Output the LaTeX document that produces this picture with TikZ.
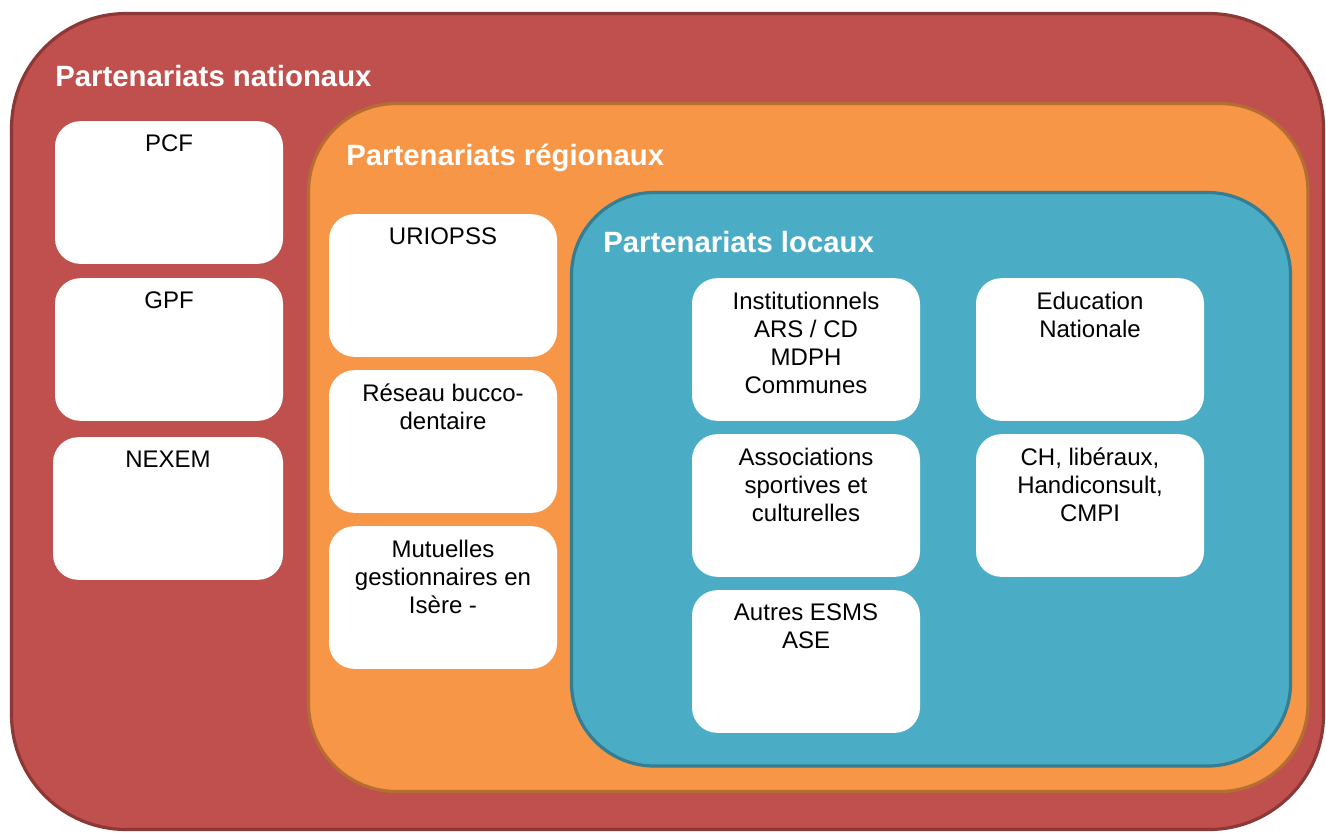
\documentclass[tikz,border=0pt]{standalone}
\usepackage{fontspec}
\setmainfont{Liberation Sans}
\definecolor{redfill}{HTML}{C0504D}
\definecolor{redline}{HTML}{8C3836}
\definecolor{orfill}{HTML}{F79646}
\definecolor{orline}{HTML}{B66D31}
\definecolor{blfill}{HTML}{4BACC6}
\definecolor{blline}{HTML}{357D91}
\tikzset{
  zone/.style={line width=2.4pt},
  title/.style={anchor=west, text=white, font=\fontsize{22}{26}\selectfont\bfseries, inner sep=0pt},
  whitebox/.style={fill=white, rounded corners=19pt, minimum width=171pt, minimum height=107pt, inner sep=0pt},
  boxtext/.style={anchor=north, inner sep=0pt, yshift=-10.3pt, align=center, font=\fontsize{18}{21}\selectfont}
}
\begin{document}
\begin{tikzpicture}[x=0.75pt,y=-0.75pt]
\useasboundingbox (0,0) rectangle (1326,832);
% zones
\draw[zone, fill=redfill, draw=redline, rounded corners=86pt] (11.5,13.5) rectangle (1323.5,829.5);
\draw[zone, fill=orfill, draw=orline, rounded corners=66pt] (308.5,103.5) rectangle (1308,791.5);
\draw[zone, fill=blfill, draw=blline, rounded corners=62pt] (571.5,192.5) rectangle (1290.5,766);
% titles
\node[title] (tnat) at (55,76) {Partenariats nationaux};
\node[title] (treg) at (346,158) {Partenariats régionaux};
\node[title] (tloc) at (603,242) {Partenariats locaux};
% national
\node[whitebox, label={[boxtext]north:PCF}] (pcf) at (169,192.5) {};
\node[whitebox, label={[boxtext]north:GPF}] (gpf) at (169,349.5) {};
\node[whitebox, minimum width=172.5pt, label={[boxtext]north:NEXEM}] (nexem) at (168,508.5) {};
% regional
\node[whitebox, label={[boxtext]north:URIOPSS}] (uriopss) at (443,285.5) {};
\node[whitebox, label={[boxtext]north:Réseau bucco-\\dentaire}] (reseau) at (443,441.5) {};
\node[whitebox, label={[boxtext]north:Mutuelles\\gestionnaires en\\Isère -}] (mutuelles) at (443,597.5) {};
% local
\node[whitebox, label={[boxtext]north:Institutionnels\\ARS / CD\\MDPH\\Communes}] (inst) at (806,349.5) {};
\node[whitebox, label={[boxtext]north:Associations\\sportives et\\culturelles}] (assoc) at (806,505.5) {};
\node[whitebox, label={[boxtext]north:Autres ESMS\\ASE}] (autres) at (806,661.5) {};
\node[whitebox, label={[boxtext]north:Education\\Nationale}] (educ) at (1090,349.5) {};
\node[whitebox, label={[boxtext]north:CH, libéraux,\\Handiconsult,\\CMPI}] (ch) at (1090,505.5) {};
\end{tikzpicture}
\end{document}
